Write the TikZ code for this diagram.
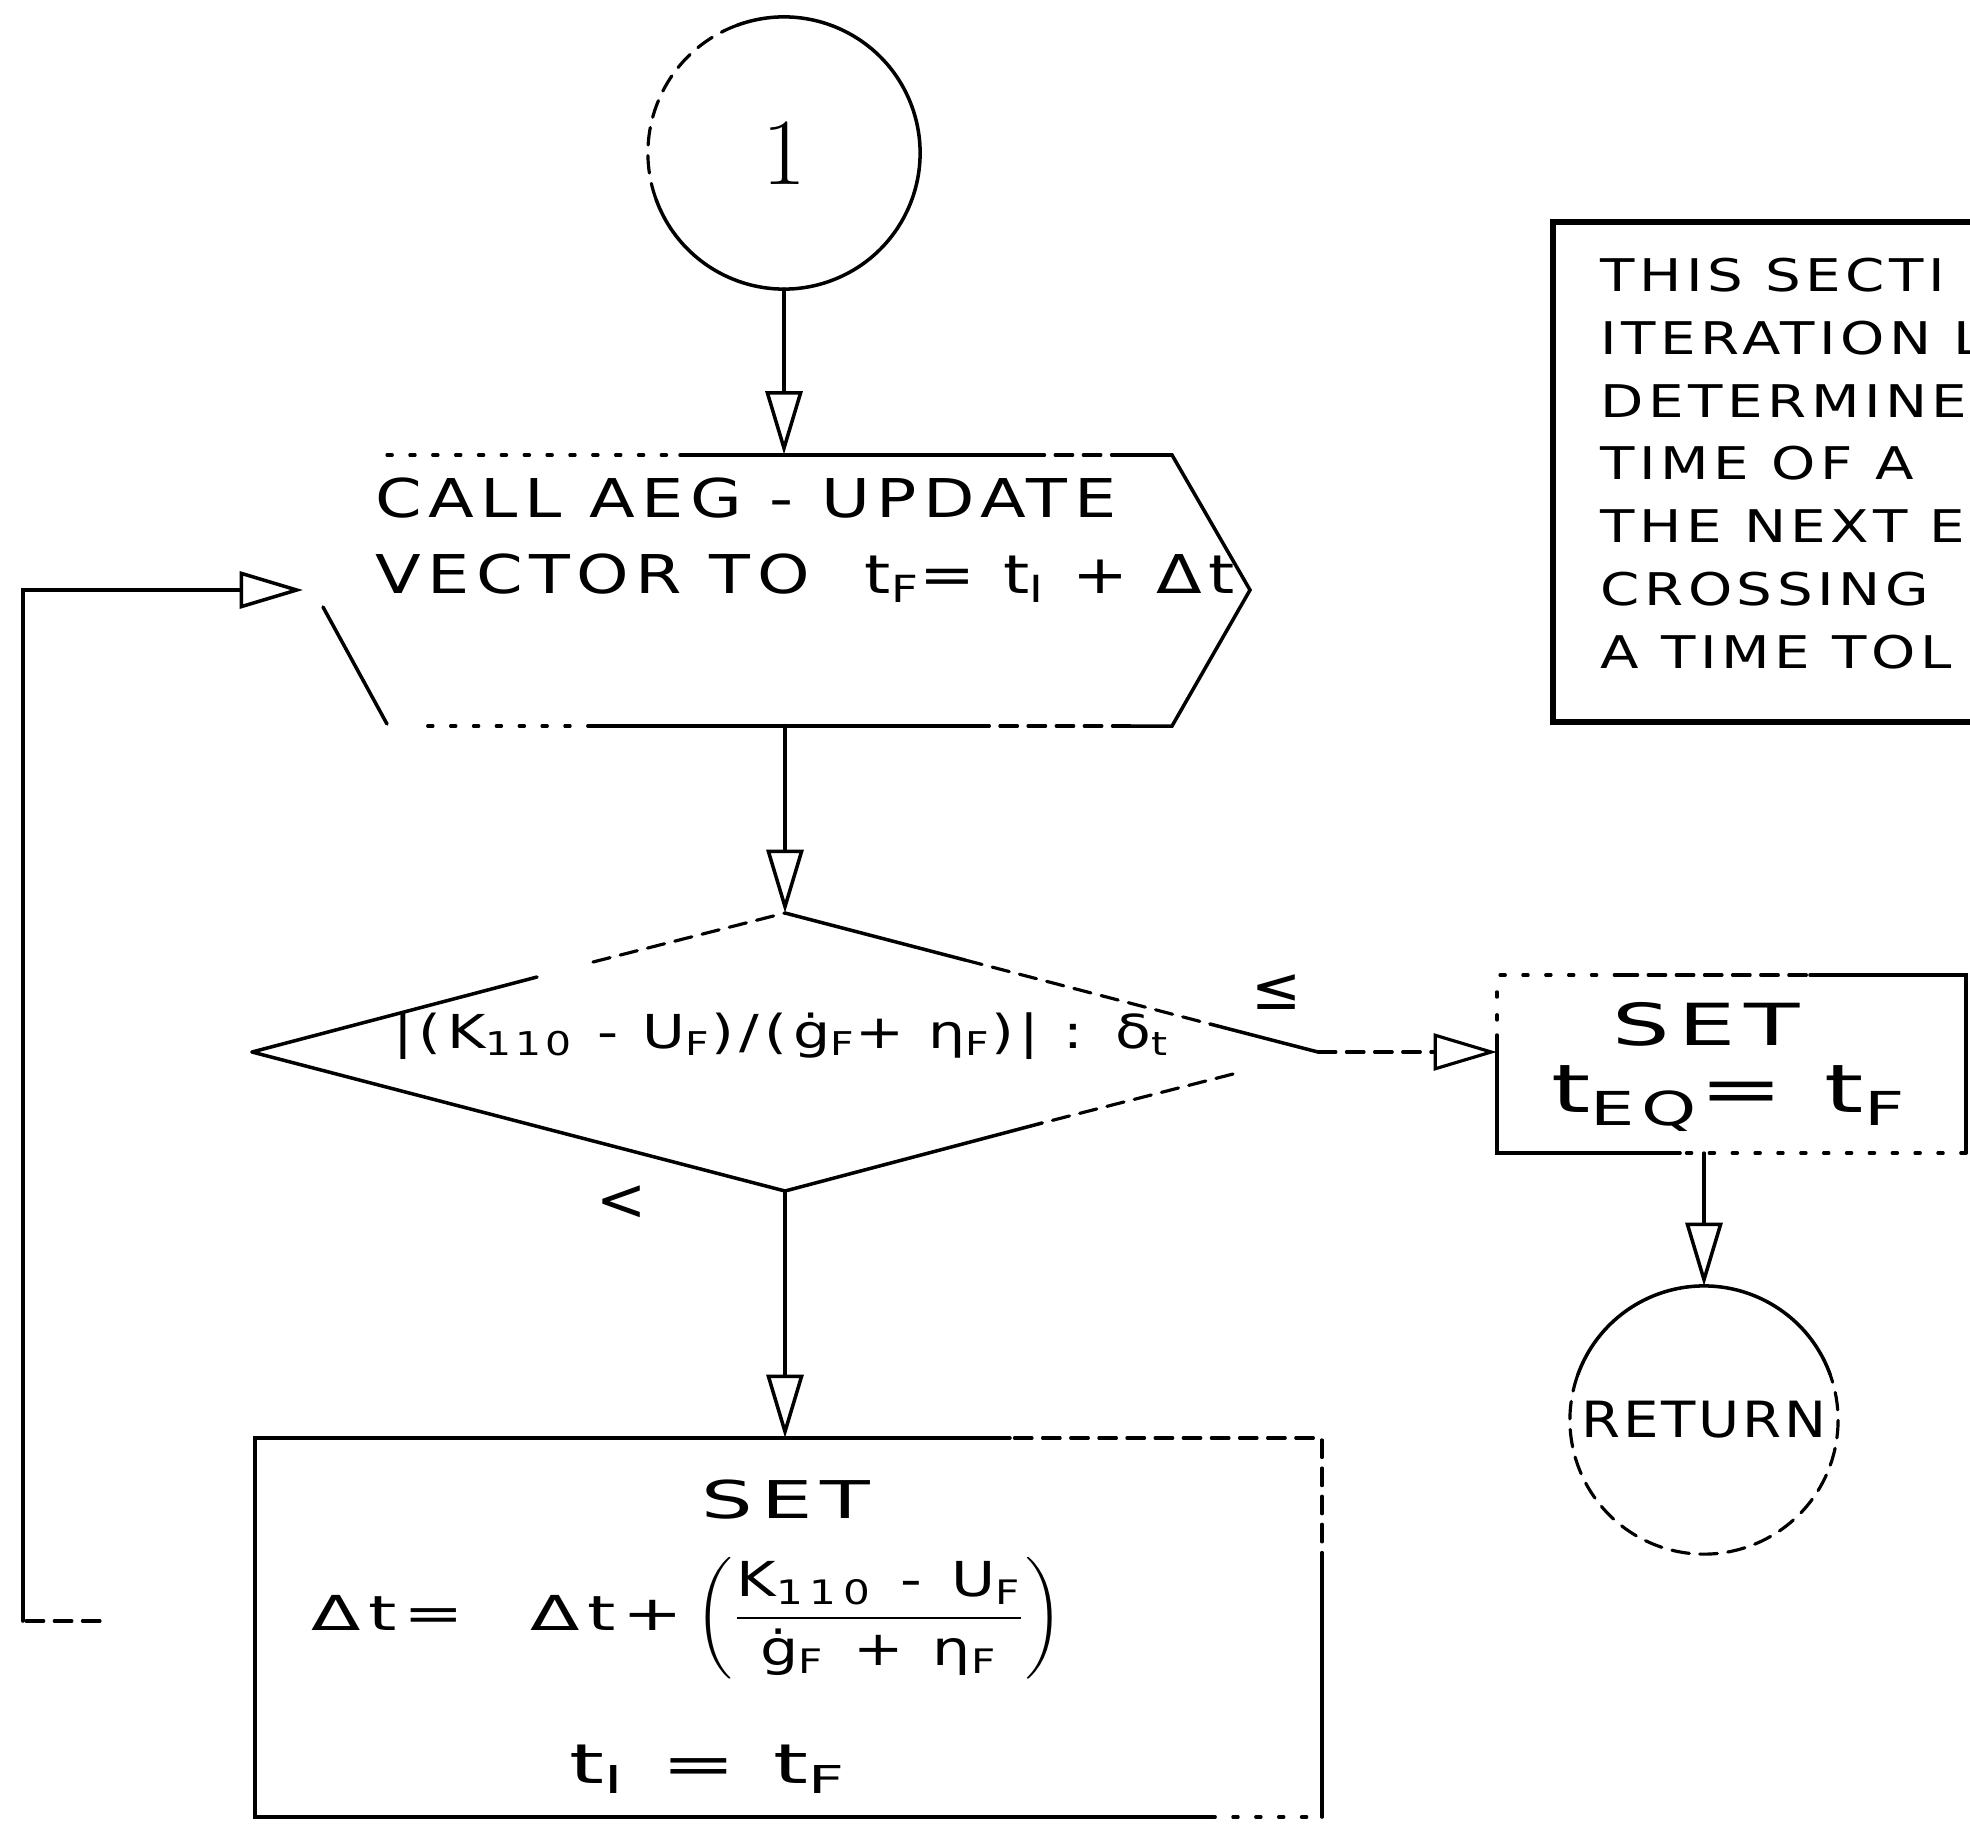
\documentclass[tikz,border=0pt]{standalone}
\usepackage{fontspec}
\usepackage{amsmath}
\usetikzlibrary{arrows.meta,shapes.geometric}
\newfontfamily\lettering[FakeStretch=1.25,LetterSpace=12]{DejaVu Sans}
\newfontfamily\noteletters[FakeStretch=1.25,LetterSpace=10]{DejaVu Sans}
\newfontfamily\plainsans{DejaVu Sans}
\newcommand{\lo}[1]{\textsubscript{#1}}
\newcommand{\sz}[2]{\fontsize{#1}{#2}\selectfont}
\newcommand{\spread}[1]{\addfontfeatures{LetterSpace=#1}}
\newcommand{\wide}[2]{\scalebox{#1}[1]{#2}}
\tikzset{
  line/.style={line width=1pt},
  faint/.style={line width=0.9pt, dash pattern=on 5pt off 3pt},
  dotty/.style={line width=0.9pt, dash pattern=on 1.5pt off 5pt},
  flow/.style={line width=1pt, -{Triangle[open, length=18pt, width=10.5pt]}},
  outline/.style={inner sep=0pt, outer sep=0pt},
  letters/.style={inner sep=0pt, font=\lettering\sz{#1}{#1}},
}
\begin{document}
\begin{tikzpicture}[x=0.01cm, y=-0.01cm, line cap=round]
  \clip (0,0) rectangle (1970,1824);

  % entry connector
  \node[outline, circle, minimum size=2.72cm, font=\sz{27}{27}] (start) at (784,153) {1};
  \draw[line] (start.200) arc[start angle=200, end angle=470, radius=1.36cm];
  \draw[faint] (start.110) arc[start angle=110, end angle=200, radius=1.36cm];

  % AEG update box
  \node[outline, minimum width=7.85cm, minimum height=2.71cm] (upd) at (780,590) {};
  \coordinate (updin) at (303,590);
  \draw[dotty] (387,455) -- (680,455);
  \draw[line] (680,455) -- (1027,455);
  \draw[faint] (1027,455) -- (1120,455);
  \draw[line] (1120,455) -- (1172,455) -- (1250,590) -- (1172,726) -- (1130,726);
  \draw[faint] (1130,726) -- (983,726);
  \draw[line] (983,726) -- (593,726);
  \draw[dotty] (593,726) -- (420,726);
  \draw[line] (387,724) -- (323,607);
  \node[letters=15.2, anchor=base west] (updtop) at (375,517) {CALL AEG - UPDATE};
  \node[letters=15.2, anchor=base west] (updbot) at (375,593) {VECTOR TO\ \ t\lo{F}= t\lo{I} + Δt};
  \draw[flow] (start) -- (start |- upd.north);

  % tolerance test
  \node[outline, diamond, aspect=3.8, minimum width=10.66cm, minimum height=2.78cm] (test) at (785,1052) {};
  \draw[line] (252,1052) -- (537,977);
  \draw[faint] (593,962) -- (785,913);
  \draw[line] (785,913) -- (965,960);
  \draw[faint] (965,960) -- (1210,1024);
  \draw[line] (1210,1024) -- (1318,1052);
  \draw[faint] (1233,1074) -- (1042,1123);
  \draw[line] (1042,1123) -- (785,1191) -- (252,1052);
  \node[letters=13.3, anchor=base west] (testtext) at (393,1048)
    {|(K\lo{110} - U\lo{F})/(ġ\lo{F}+ η\lo{F})| : δ\lo{t}};
  \node[font=\plainsans\sz{17}{17}] (le) at (1277,992) {≤};
  \node[font=\plainsans\sz{17}{17}] (lt) at (622,1203) {<};
  \draw[flow] (upd.south -| test.north) -- (test.north);

  % converged
  \node[outline, minimum width=4.69cm, minimum height=1.78cm] (seteq) at (1731.5,1064) {};
  \draw[dotty] (1500,975) -- (1620,975);
  \draw[faint] (1620,975) -- (1810,975);
  \draw[line] (1810,975) -- (1966,975) -- (1966,1153);
  \draw[dotty] (1966,1153) -- (1680,1153);
  \draw[line] (1680,1153) -- (1497,1153) -- (1497,1035);
  \draw[dotty] (1497,1020) -- (1497,975);
  \node[letters=16.5, anchor=base] (seteqtop) at (1706,1045) {\wide{1.25}{SET}};
  \node[letters=19, anchor=base] (seteqbot) at (1729,1112) {\wide{1.2}{t\lo{EQ}= t\lo{F}}};
  \draw[flow, faint] (test.east) -- (test.east -| seteq.west);

  % exit connector
  \node[outline, circle, minimum size=2.68cm, font=\noteletters\sz{14.2}{16}\spread{6}] (ret) at (1704,1420) {\wide{0.9}{RETURN}};
  \draw[line] (ret.20) arc[start angle=20, end angle=160, radius=1.34cm];
  \draw[faint] (ret.160) arc[start angle=160, end angle=380, radius=1.34cm];
  \draw[flow] (ret.north |- seteq.south) -- (ret.north);

  % new step size
  \node[outline, minimum width=10.67cm, minimum height=3.79cm] (newdt) at (788.5,1627.5) {};
  \draw[line] (1010,1438) -- (255,1438) -- (255,1817) -- (1210,1817);
  \draw[dotty] (1210,1817) -- (1322,1817);
  \draw[line] (1322,1817) -- (1322,1570);
  \draw[faint] (1322,1570) -- (1322,1438) -- (1010,1438);
  \node[letters=14.8, anchor=base] (newdttop) at (786,1518) {\wide{1.25}{SET}};
  \node[letters=13.7, anchor=west] (newdtmid) at (311,1618)
    {\wide{1.2}{Δt=}\hspace{0.67cm}\wide{1.2}{Δt+}\hspace{0.12cm}$\left(\dfrac{\text{\sz{13.7}{15}\spread{20}K\lo{110} - U\lo{F}}}{\text{\sz{13.7}{15}\spread{20}ġ\lo{F} + η\lo{F}}}\right)$};
  \node[letters=15.6, anchor=base] (newdtbot) at (708,1783) {\wide{1.3}{t\lo{I} = t\lo{F}}};
  \draw[flow] (test.south) -- (test.south |- newdt.north);

  % loop back to the update
  \coordinate (loopend) at (100,1621);
  \coordinate (loopcorner) at (23,1621);
  \draw[faint] (loopend) -- (loopcorner);
  \draw[flow] (loopcorner) |- (updin);

  % remark
  \node[draw, line width=1.6pt, outline, minimum width=6cm, minimum height=5cm, anchor=north west] (note) at (1553,222) {};
  \node[inner sep=0pt, anchor=north west, align=left, font=\noteletters\sz{12.8}{17.9}] (notetext) at (1600,257)
    {THIS SECTI\\ITERATION L\\DETERMINE\\TIME OF A\\THE NEXT E\\CROSSING\\A TIME TOL};
\end{tikzpicture}
\end{document}
